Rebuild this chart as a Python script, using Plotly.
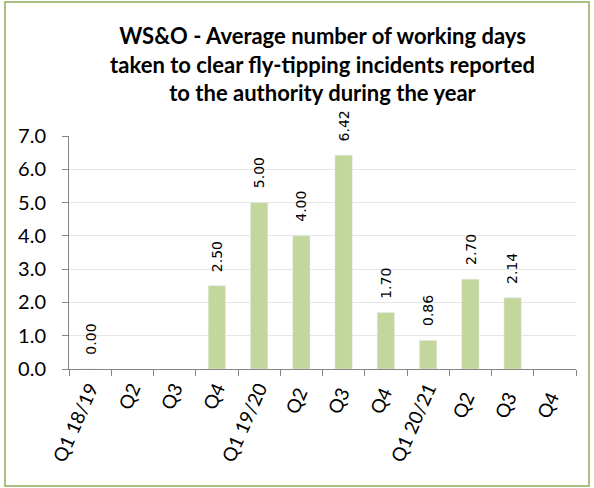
import plotly.graph_objects as go

categories = ["Q1 18/19", "Q2", "Q3", "Q4", "Q1 19/20", "Q2 ", "Q3 ", "Q4 ",
              "Q1 20/21", "Q2  ", "Q3  ", "Q4  "]
values = [0.00, None, None, 2.50, 5.00, 4.00, 6.42, 1.70, 0.86, 2.70, 2.14, None]
labels = ["0.00", "", "", "2.50", "5.00", "4.00", "6.42", "1.70", "0.86", "2.70", "2.14", ""]
yticks = [0, 1, 2, 3, 4, 5, 6, 7]

fig = go.Figure()
fig.add_trace(go.Bar(
    x=categories, y=values, marker_color="#c3d69b", width=0.41,
    hoverinfo="x+y",
))

for c, v, t in zip(categories, values, labels):
    if v is None or not t:
        continue
    fig.add_annotation(
        x=c, y=v, text=t, textangle=-90, showarrow=False,
        xanchor="center", yanchor="bottom", yshift=12,
        font=dict(family="DejaVu Sans", size=14, color="#000000"),
    )

fig.update_layout(
    width=594, height=488,
    margin=dict(l=69, r=18, t=136, b=119),
    paper_bgcolor="white", plot_bgcolor="white",
    showlegend=False,
    title=dict(
        text="<b>WS&O - Average number of working days<br>taken to clear fly-tipping incidents reported<br>to the authority during the year</b>",
        x=0.5, xref="paper", xanchor="center",
        yref="container", y=1 - 44 / 488, yanchor="top",
        font=dict(family="Lato", size=22, color="#000000"),
    ),
    xaxis=dict(
        type="category", tickangle=-66, tickson="boundaries",
        ticks="outside", ticklen=6, tickcolor="#868686",
        showline=True, linecolor="#868686", linewidth=1,
        showgrid=False,
        tickfont=dict(family="Lato", size=19, color="#000000"),
    ),
    yaxis=dict(
        range=[0, 7], tickvals=yticks, tickformat=".1f",
        ticks="outside", ticklen=6, tickcolor="#868686",
        ticklabelstandoff=12,
        showline=True, linecolor="#868686", linewidth=1,
        showgrid=True, gridcolor="#e6e6e6", zeroline=False,
        tickfont=dict(family="Lato", size=20, color="#000000"),
    ),
)

fig.add_shape(
    type="rect", xref="paper", yref="paper",
    x0=-64 / 507, x1=1 + 13 / 507, y0=-117 / 233, y1=1 + 134 / 233,
    line=dict(color="#8eac5a", width=1.5), fillcolor="rgba(0,0,0,0)",
    layer="above",
)

fig.write_html("out.html", post_script="document.body.style.margin='0';",
               config={"displayModeBar": False})
